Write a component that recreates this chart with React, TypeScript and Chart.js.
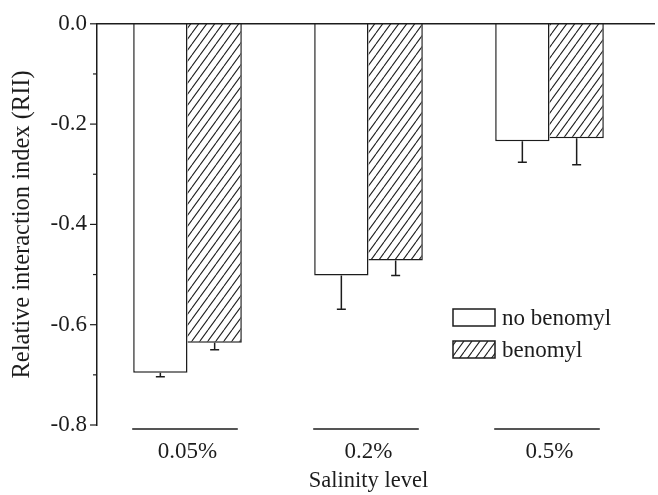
import React, { useEffect, useRef } from 'react';
import { Chart, registerables } from 'chart.js';

Chart.register(...registerables);

const categories = ['0.05%', '0.2%', '0.5%'];
const seriesNames = ['no benomyl', 'benomyl'];
const noBenomyl = [-0.696, -0.502, -0.234];
const benomyl = [-0.636, -0.472, -0.228];
const noBenomylErr = [0.008, 0.067, 0.042];
const benomylErr = [0.014, 0.03, 0.053];
const errors = [noBenomylErr, benomylErr];
const yMin = -0.8;
const yMax = 0;
const yStep = 0.1;

const FONT = "'Liberation Serif', 'Times New Roman', serif";
const INK = '#1c1c1c';

function makeHatch(): CanvasPattern | string {
  const c = document.createElement('canvas');
  const w = 8;
  const h = 11;
  c.width = w;
  c.height = h;
  const g = c.getContext('2d');
  if (!g) return '#fff';
  g.fillStyle = '#fff';
  g.fillRect(0, 0, w, h);
  g.strokeStyle = '#222';
  g.lineWidth = 1.1;
  g.beginPath();
  g.moveTo(0, h);
  g.lineTo(w, 0);
  g.moveTo(-w, h);
  g.lineTo(0, 0);
  g.moveTo(w, h);
  g.lineTo(2 * w, 0);
  g.stroke();
  const p = g.createPattern(c, 'repeat');
  return p || '#fff';
}

const decorPlugin = {
  id: 'decor',
  afterDatasetsDraw(chart: any) {
    const ctx = chart.ctx as CanvasRenderingContext2D;
    const area = chart.chartArea;
    const ys = chart.scales.y;
    ctx.save();
    ctx.strokeStyle = INK;
    ctx.lineCap = 'butt';

    // error bars (downward only)
    chart.data.datasets.forEach((ds: any, di: number) => {
      const meta = chart.getDatasetMeta(di);
      meta.data.forEach((el: any, i: number) => {
        const v = ds.data[i];
        const e = errors[di][i];
        const y0 = el.y;
        const y1 = ys.getPixelForValue(v - e);
        ctx.lineWidth = 1.5;
        ctx.beginPath();
        ctx.moveTo(el.x, y0);
        ctx.lineTo(el.x, y1);
        ctx.moveTo(el.x - 4.5, y1);
        ctx.lineTo(el.x + 4.5, y1);
        ctx.stroke();
      });
    });

    // zero line across the top
    const yz = ys.getPixelForValue(0);
    ctx.lineWidth = 1.5;
    ctx.beginPath();
    ctx.moveTo(area.left, yz);
    ctx.lineTo(chart.width - 3, yz);
    ctx.stroke();

    // y tick marks (major / minor)
    ys.ticks.forEach((t: any) => {
      const py = ys.getPixelForValue(t.value);
      const major = Math.round(t.value * 10) % 2 === 0;
      const len = major ? 7 : 4;
      ctx.lineWidth = 1.2;
      ctx.beginPath();
      ctx.moveTo(area.left - len, py);
      ctx.lineTo(area.left, py);
      ctx.stroke();
    });

    // short baseline segments under each category
    const m0 = chart.getDatasetMeta(0);
    const m1 = chart.getDatasetMeta(chart.data.datasets.length - 1);
    categories.forEach((_c, i) => {
      const b0 = m0.data[i];
      const b1 = m1.data[i];
      const l = b0.x - b0.width / 2;
      const r = b1.x + b1.width / 2;
      const y = area.bottom + 4;
      ctx.lineWidth = 1.6;
      ctx.beginPath();
      ctx.moveTo(l - 1, y);
      ctx.lineTo(r - 4, y);
      ctx.stroke();
    });

    // legend
    const lx = 453;
    const ly = 309;
    const bw = 42;
    const bh = 17;
    const gap = 32;
    chart.data.datasets.forEach((ds: any, di: number) => {
      const top = ly + di * gap;
      ctx.fillStyle = ds.backgroundColor;
      ctx.fillRect(lx, top, bw, bh);
      ctx.lineWidth = 1.5;
      ctx.strokeStyle = INK;
      ctx.strokeRect(lx, top, bw, bh);
      ctx.fillStyle = INK;
      ctx.font = `23px ${FONT}`;
      ctx.textBaseline = 'middle';
      ctx.textAlign = 'left';
      ctx.fillText(seriesNames[di], lx + bw + 7, top + bh / 2 + 1);
    });
    ctx.restore();
  },
};

export default function App() {
  const ref = useRef<HTMLCanvasElement | null>(null);
  useEffect(() => {
    if (!ref.current) return;
    const hatch = makeHatch();
    const chart = new Chart(ref.current, {
      type: 'bar',
      data: {
        labels: categories,
        datasets: [
          {
            label: seriesNames[0],
            data: noBenomyl,
            backgroundColor: '#ffffff',
            borderColor: INK,
            borderWidth: { top: 0, left: 1.5, right: 1.5, bottom: 1.5 } as any,
            borderSkipped: false,
          },
          {
            label: seriesNames[1],
            data: benomyl,
            backgroundColor: hatch as any,
            borderColor: INK,
            borderWidth: { top: 0, left: 0, right: 1.5, bottom: 1.5 } as any,
            borderSkipped: false,
          },
        ],
      },
      options: {
        animation: false,
        responsive: true,
        maintainAspectRatio: false,
        layout: { padding: { top: 22, right: 18, left: 0, bottom: 0 } },
        datasets: { bar: { barPercentage: 1, categoryPercentage: 0.6 } },
        plugins: { legend: { display: false }, tooltip: { enabled: false } },
        scales: {
          x: {
            type: 'category',
            position: 'bottom',
            grid: { display: false, drawTicks: false },
            border: { display: false },
            ticks: { color: INK, font: { family: FONT, size: 23 }, padding: 13, maxRotation: 0 },
            title: {
              display: true,
              text: 'Salinity level',
              color: INK,
              font: { family: FONT, size: 22.5 },
              padding: { top: 0, bottom: 0 },
            },
            afterFit: (s: any) => {
              s.height = 70;
            },
          },
          y: {
            min: yMin,
            max: yMax,
            grid: { display: false, drawTicks: false },
            border: { display: true, color: INK, width: 1.5 },
            ticks: {
              stepSize: yStep,
              color: INK,
              font: { family: FONT, size: 23 },
              padding: 10,
              autoSkip: false,
              callback: (v: any) => {
                const n = Math.round(Number(v) * 10);
                return n % 2 === 0 ? (n / 10).toFixed(1) : '';
              },
            },
            title: {
              display: true,
              text: 'Relative interaction index (RII)',
              color: INK,
              font: { family: FONT, size: 24.5 },
              padding: { top: 8, bottom: 0 },
            },
            afterFit: (s: any) => {
              s.width = 97;
            },
          },
        },
      },
      plugins: [decorPlugin],
    });
    return () => chart.destroy();
  }, []);
  return (
    <div style={{ position: 'absolute', left: 0, top: 0, width: 658, height: 495, background: '#fff' }}>
      <canvas ref={ref} />
    </div>
  );
}
